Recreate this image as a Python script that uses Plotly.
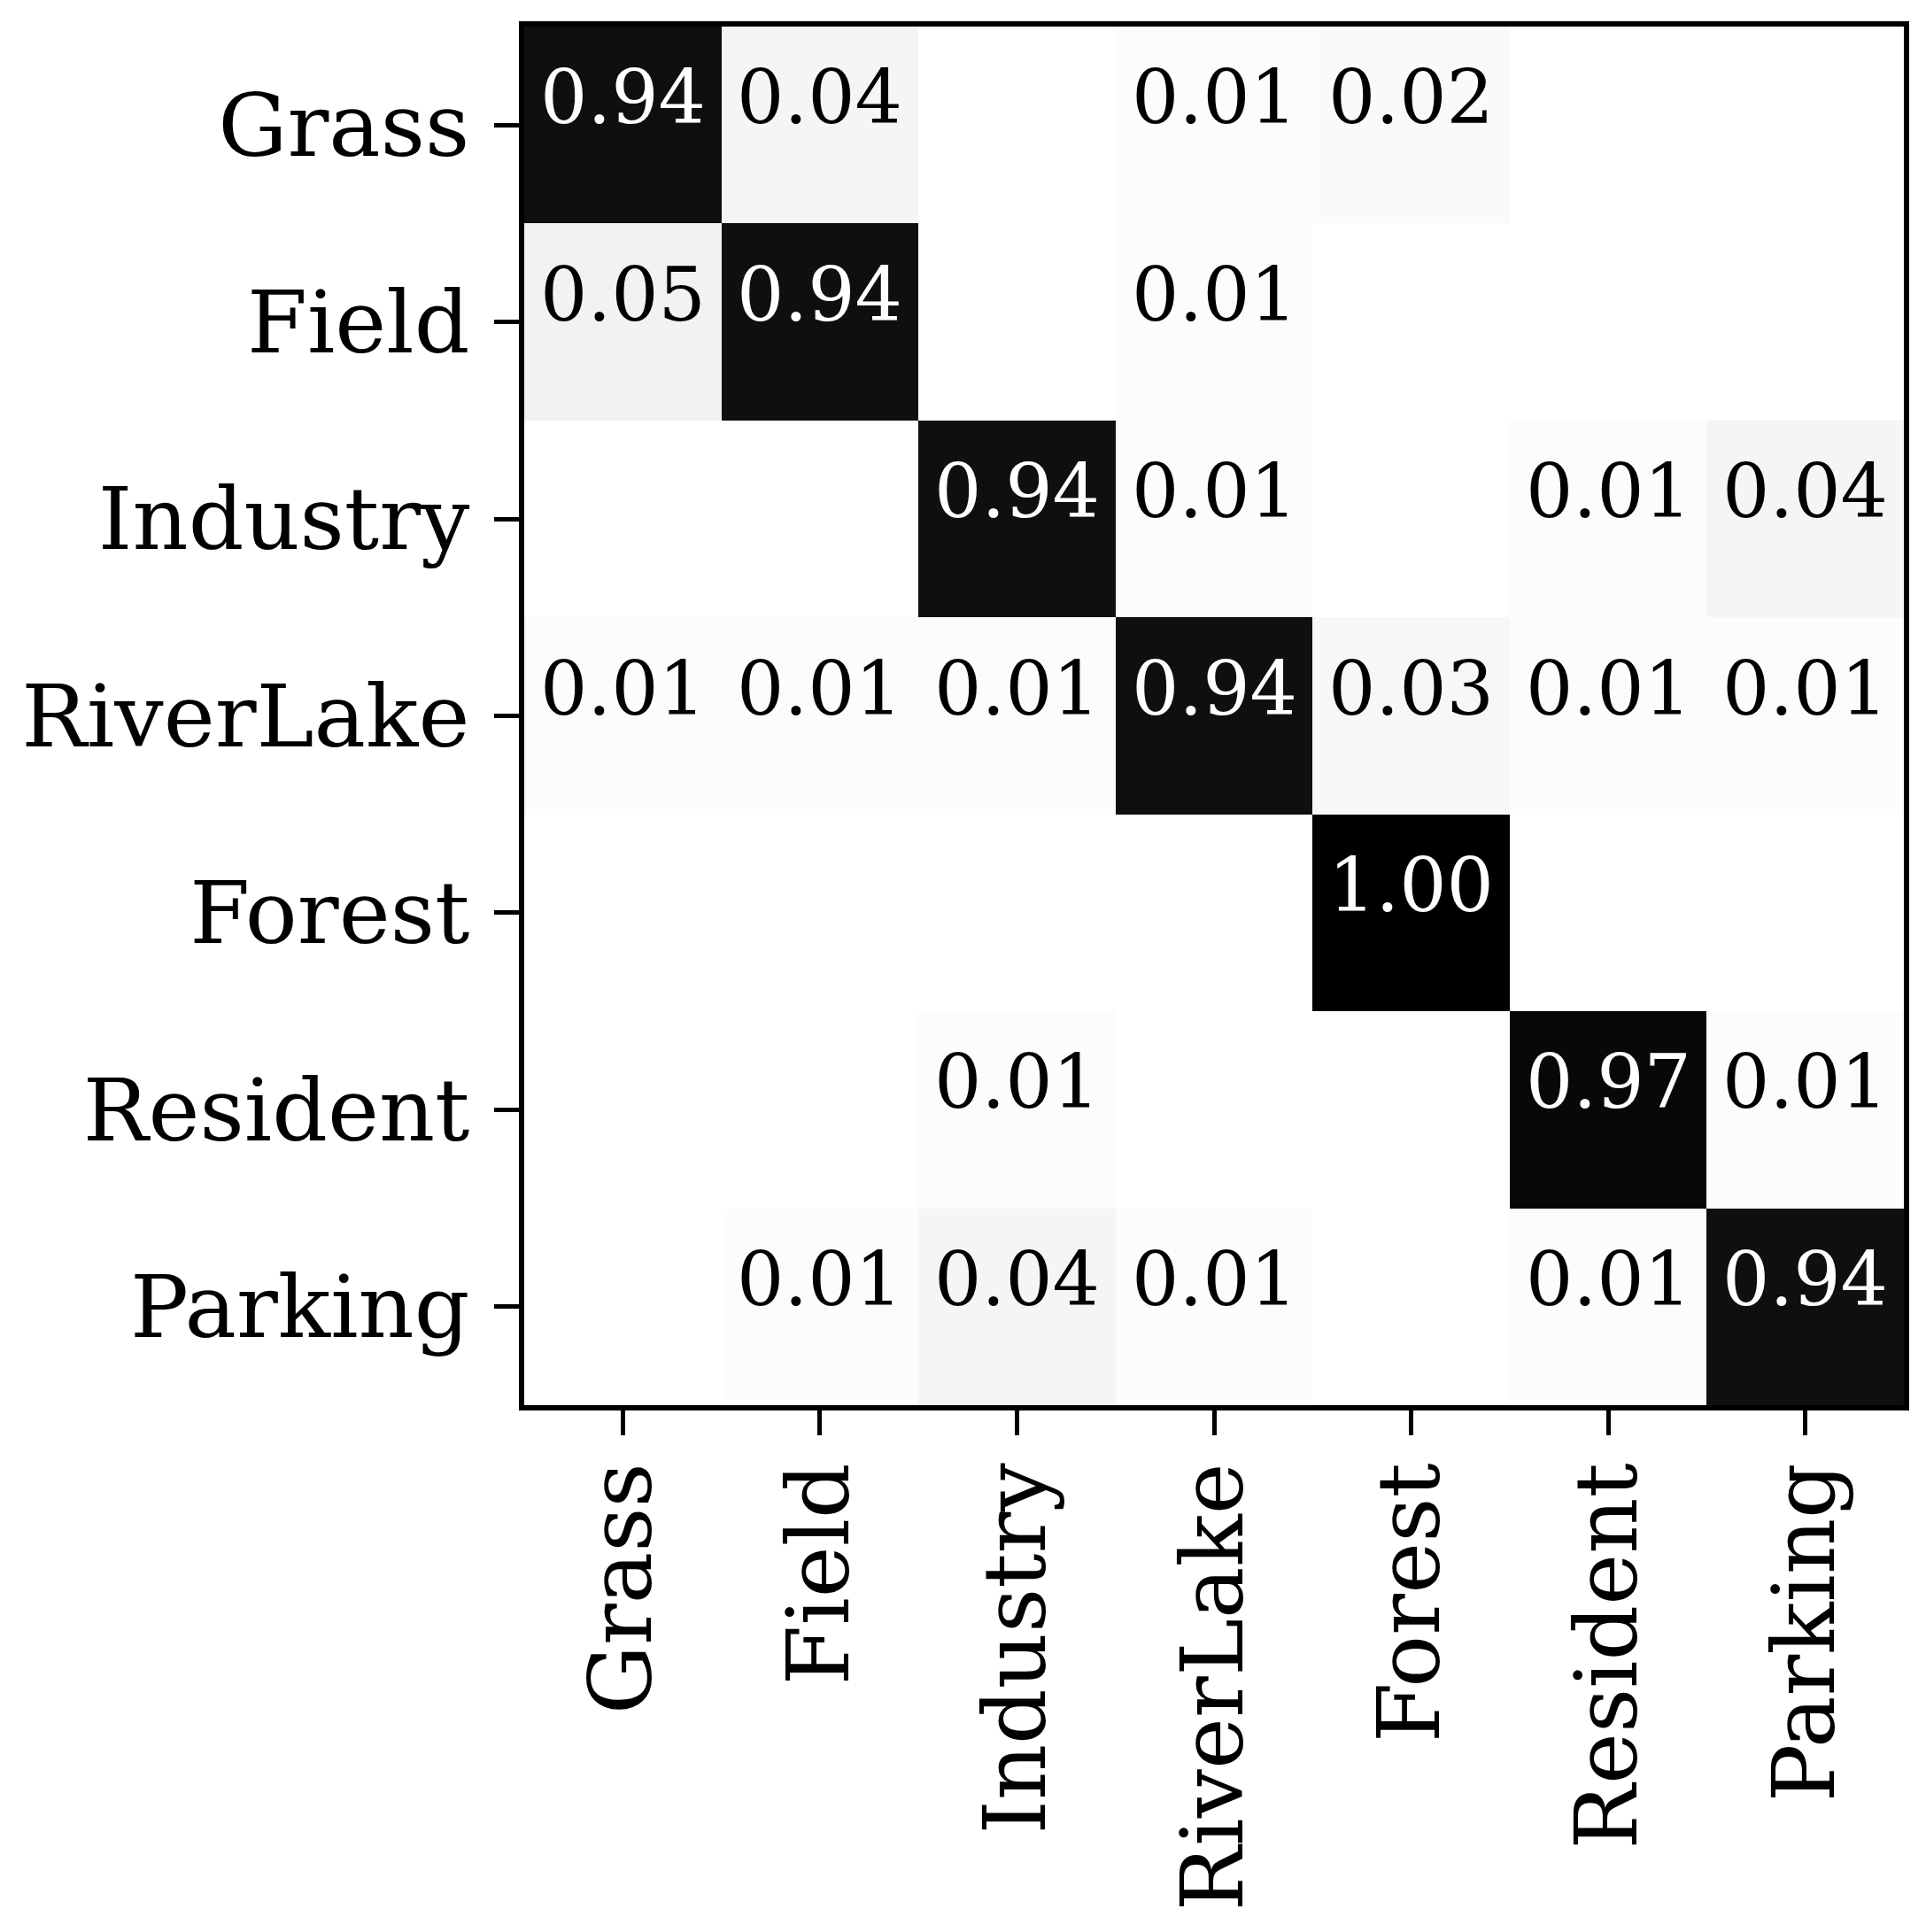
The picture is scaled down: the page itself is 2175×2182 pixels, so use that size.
import plotly.graph_objects as go

classes = ["Grass", "Field", "Industry", "RiverLake", "Forest", "Resident", "Parking"]

row_grass = [0.94, 0.04, 0.00, 0.01, 0.02, 0.00, 0.00]
row_field = [0.05, 0.94, 0.00, 0.01, 0.00, 0.00, 0.00]
row_industry = [0.00, 0.00, 0.94, 0.01, 0.00, 0.01, 0.04]
row_riverlake = [0.01, 0.01, 0.01, 0.94, 0.03, 0.01, 0.01]
row_forest = [0.00, 0.00, 0.00, 0.00, 1.00, 0.00, 0.00]
row_resident = [0.00, 0.00, 0.01, 0.00, 0.00, 0.97, 0.01]
row_parking = [0.00, 0.01, 0.04, 0.01, 0.00, 0.01, 0.94]

matrix = [row_grass, row_field, row_industry, row_riverlake, row_forest, row_resident, row_parking]

FONT = "DejaVu Serif"

fig = go.Figure(
    go.Heatmap(
        z=matrix,
        x=classes,
        y=classes,
        zmin=0,
        zmax=1,
        colorscale=[[0, "#ffffff"], [1, "#000000"]],
        showscale=False,
        hoverongaps=False,
    )
)

annotations = []
for i, true_c in enumerate(classes):
    for j, pred_c in enumerate(classes):
        v = matrix[i][j]
        if v <= 0:
            continue
        annotations.append(
            dict(
                x=pred_c,
                y=true_c,
                xref="x",
                yref="y",
                text=f"{v:.2f}",
                showarrow=False,
                xanchor="center",
                yanchor="middle",
                yshift=31,
                font=dict(family=FONT, size=84, color="#ffffff" if v > 0.5 else "#000000"),
            )
        )

# page body has an 8px default margin; compensate so the plot frame lands where intended
fig.update_layout(
    width=2167,
    height=2174,
    margin=dict(l=584, r=25, t=22, b=595, pad=0),
    paper_bgcolor="#ffffff",
    plot_bgcolor="#ffffff",
    annotations=annotations,
    font=dict(family=FONT, color="#000000"),
)

axis_common = dict(
    showgrid=False,
    zeroline=False,
    showline=True,
    linewidth=6,
    linecolor="#000000",
    mirror=True,
    ticks="outside",
    ticklen=28,
    tickwidth=5,
    tickcolor="#000000",
    tickfont=dict(family=FONT, size=98, color="#000000"),
    automargin=False,
)

fig.update_xaxes(type="category", tickangle=-90, ticklabelstandoff=-8, **axis_common)
fig.update_yaxes(type="category", autorange="reversed", ticklabelstandoff=8, **axis_common)

fig.write_html("out.html")
